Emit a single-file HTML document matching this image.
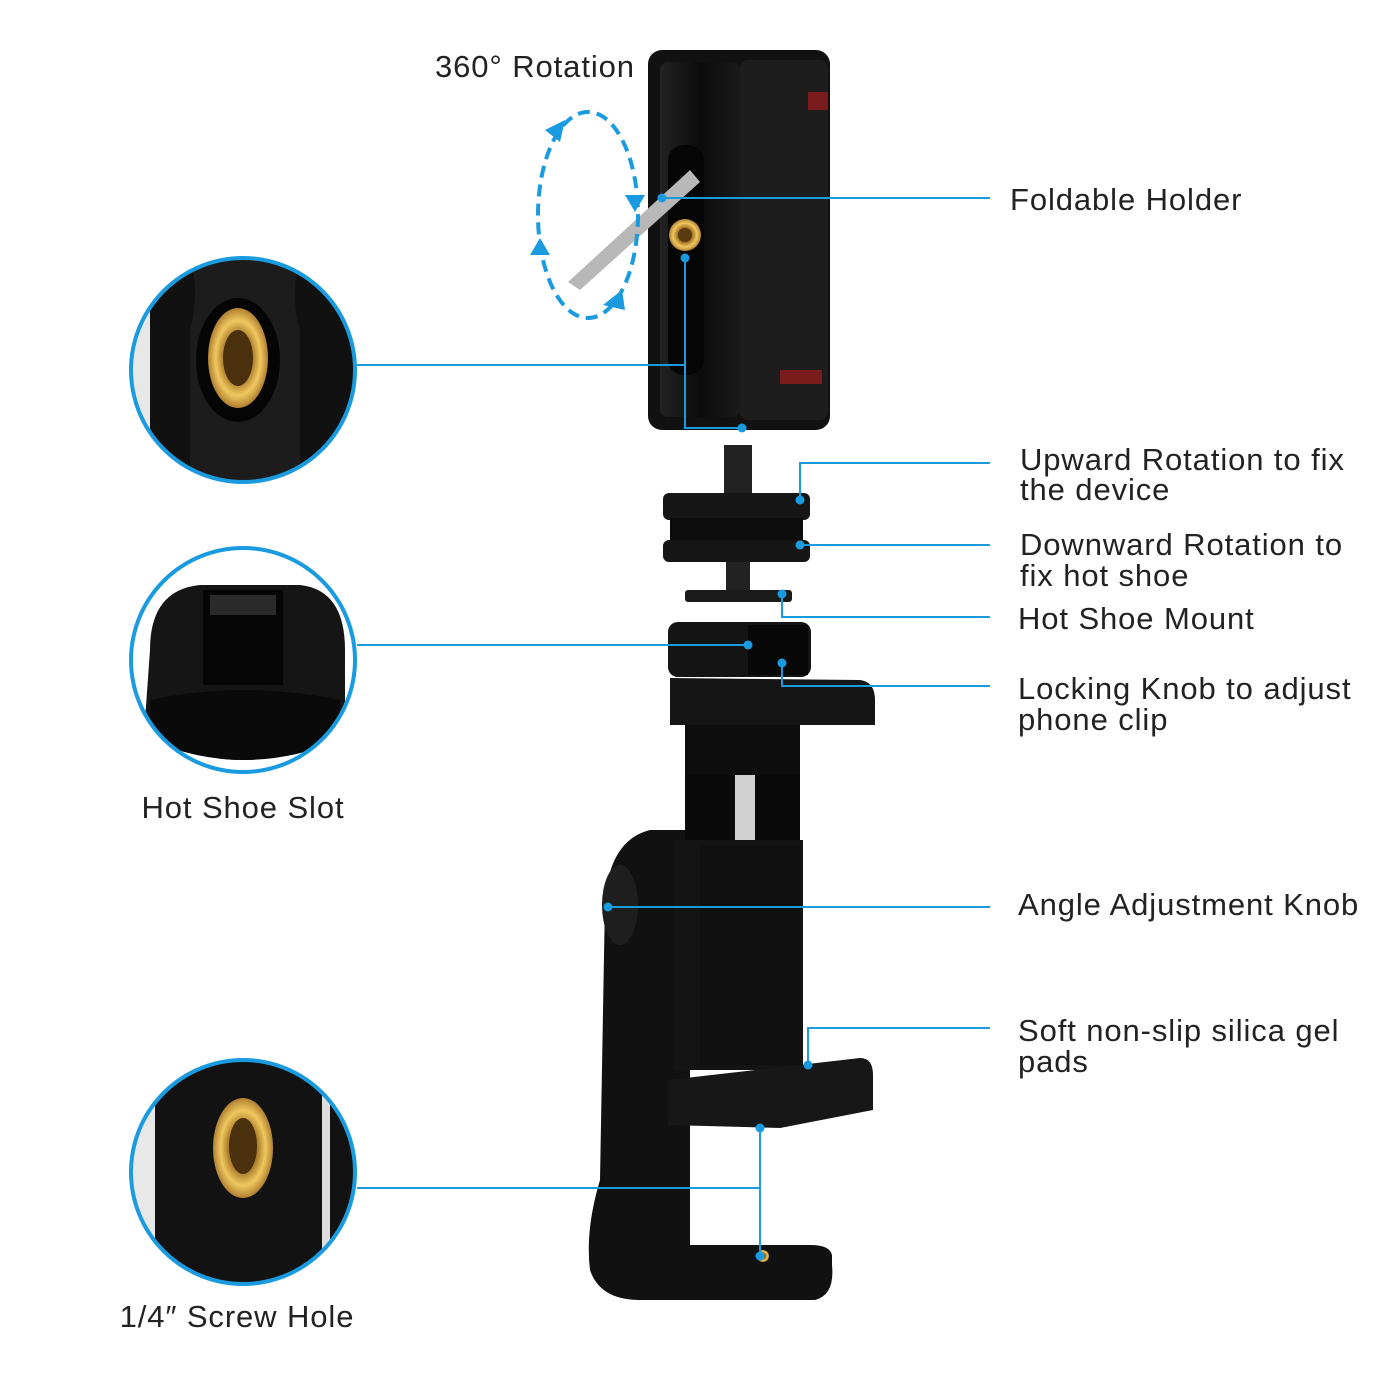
<!DOCTYPE html>
<html><head><meta charset="utf-8"><style>
html,body{margin:0;padding:0;background:#fff;}
svg{display:block}
text{font-family:"Liberation Sans",sans-serif;font-size:31px;letter-spacing:0.9px;fill:#222;}
</style></head><body>
<svg width="1400" height="1400" viewBox="0 0 1400 1400" xmlns="http://www.w3.org/2000/svg">
<defs>
<radialGradient id="brass" cx="50%" cy="50%" r="50%"><stop offset="0" stop-color="#5a3a10"/><stop offset="0.45" stop-color="#a07020"/><stop offset="0.75" stop-color="#f0c860"/><stop offset="1" stop-color="#b08030"/></radialGradient>
<linearGradient id="body" x1="0" x2="1"><stop offset="0" stop-color="#222"/><stop offset="0.5" stop-color="#0c0c0c"/><stop offset="1" stop-color="#1a1a1a"/></linearGradient>
<clipPath id="c1"><circle cx="243" cy="370" r="112"/></clipPath>
<clipPath id="c2"><circle cx="243" cy="660" r="112"/></clipPath>
<clipPath id="c3"><circle cx="243" cy="1172" r="112"/></clipPath>
</defs>

<g clip-path="url(#c1)">
<rect x="120" y="250" width="250" height="250" fill="#111"/>
<rect x="120" y="250" width="30" height="250" fill="#e8e8e8"/>
<path d="M190 250 Q200 300 190 330 L190 500 L300 500 L300 330 Q290 300 300 250Z" fill="#1c1c1c"/>
<ellipse cx="238" cy="360" rx="42" ry="62" fill="#050505"/>
<ellipse cx="238" cy="358" rx="30" ry="50" fill="url(#brass)"/>
<ellipse cx="238" cy="358" rx="15" ry="28" fill="#4a300c"/>
</g>
<circle cx="243" cy="370" r="112" fill="none" stroke="#1a9be0" stroke-width="4"/>

<g clip-path="url(#c2)">
<rect x="120" y="540" width="250" height="250" fill="#fff"/>
<path d="M150 650 Q150 590 200 585 L300 585 Q345 590 345 650 L345 720 Q300 760 243 760 Q180 760 145 720Z" fill="#151515"/>
<rect x="203" y="590" width="80" height="95" fill="#050505"/>
<rect x="210" y="595" width="66" height="20" fill="#2a2a2a"/>
<path d="M150 700 Q243 680 340 700 L340 740 Q243 780 150 740Z" fill="#0a0a0a"/>
</g>
<circle cx="243" cy="660" r="112" fill="none" stroke="#1a9be0" stroke-width="4"/>

<g clip-path="url(#c3)">
<rect x="120" y="1050" width="250" height="250" fill="#121212"/>
<rect x="120" y="1050" width="35" height="250" fill="#e8e8e8"/>
<rect x="322" y="1050" width="8" height="250" fill="#ddd"/>
<ellipse cx="243" cy="1148" rx="30" ry="50" fill="url(#brass)"/>
<ellipse cx="243" cy="1146" rx="14" ry="28" fill="#4a300c"/>
</g>
<circle cx="243" cy="1172" r="112" fill="none" stroke="#1a9be0" stroke-width="4"/>

<rect x="648" y="50" width="182" height="380" rx="14" fill="#111"/>
<rect x="740" y="60" width="88" height="360" rx="8" fill="#1d1d1d"/>
<rect x="660" y="62" width="80" height="355" rx="8" fill="url(#body)"/>
<rect x="808" y="92" width="20" height="18" fill="#7a1c1c"/>
<rect x="780" y="370" width="42" height="14" fill="#7a1c1c"/>
<rect x="668" y="145" width="36" height="230" rx="16" fill="#050505"/>
<path d="M568 282 L690 170 L700 182 L580 290Z" fill="#b8b8b8"/>
<circle cx="685" cy="235" r="16" fill="url(#brass)"/>
<circle cx="685" cy="235" r="7" fill="#5a3a10"/>
<ellipse cx="588" cy="215" rx="50" ry="103" fill="none" stroke="#1a9be0" stroke-width="4" stroke-dasharray="12,7"/>
<polygon points="545,130 565,120 560,142" fill="#1a9be0"/>
<polygon points="625,195 645,195 635,212" fill="#1a9be0"/>
<polygon points="530,255 550,255 540,238" fill="#1a9be0"/>
<polygon points="603,305 622,290 625,310" fill="#1a9be0"/>

<rect x="724" y="445" width="28" height="55" fill="#222"/>
<rect x="663" y="493" width="147" height="27" rx="6" fill="#161616"/>
<rect x="670" y="518" width="133" height="24" fill="#0c0c0c"/>
<rect x="663" y="540" width="147" height="22" rx="6" fill="#161616"/>
<rect x="726" y="562" width="24" height="30" fill="#222"/>
<rect x="685" y="590" width="107" height="12" rx="3" fill="#1a1a1a"/>

<path d="M650 830 Q610 840 605 900 L600 1180 Q585 1230 590 1270 Q600 1300 640 1300 L815 1300 Q835 1295 832 1265 L832 1255 Q830 1245 810 1245 L690 1245 L690 1120 L690 830Z" fill="#111"/>
<ellipse cx="620" cy="905" rx="18" ry="40" fill="#1e1e1e"/>
<rect x="668" y="622" width="143" height="55" rx="10" fill="#141414"/>
<rect x="748" y="625" width="60" height="50" fill="#080808"/>
<path d="M670 678 L860 680 Q875 682 875 700 L875 725 L670 725Z" fill="#151515"/>
<rect x="685" y="725" width="115" height="50" fill="#0d0d0d"/>
<rect x="685" y="775" width="115" height="70" fill="#0a0a0a"/>
<rect x="735" y="775" width="20" height="70" fill="#d0d0d0"/>
<rect x="673" y="840" width="130" height="230" fill="#141414"/>
<rect x="700" y="845" width="100" height="220" fill="#101010"/>
<path d="M668 1080 L860 1058 Q873 1058 873 1075 L873 1110 L780 1128 L668 1125Z" fill="#171717"/>
<circle cx="763" cy="1256" r="6" fill="url(#brass)"/>

<g stroke="#1a9be0" stroke-width="2" fill="none">
<path d="M662 198 H990"/>
<path d="M357 365 H685 M685 258 V428 H742"/>
<path d="M800 500 V463 H990"/>
<path d="M800 545 H990"/>
<path d="M782 594 V617 H990"/>
<path d="M357 645 H748"/>
<path d="M782 663 V686 H990"/>
<path d="M608 907 H990"/>
<path d="M808 1065 V1028 H990"/>
<path d="M357 1188 H760 M760 1128 V1256"/>
</g>
<g fill="#1a9be0">
<circle cx="662" cy="198" r="4.5"/><circle cx="685" cy="258" r="4.5"/><circle cx="742" cy="428" r="4.5"/>
<circle cx="800" cy="500" r="4.5"/><circle cx="800" cy="545" r="4.5"/><circle cx="782" cy="594" r="4.5"/>
<circle cx="748" cy="645" r="4.5"/><circle cx="782" cy="663" r="4.5"/><circle cx="608" cy="907" r="4.5"/>
<circle cx="808" cy="1065" r="4.5"/><circle cx="760" cy="1128" r="4.5"/><circle cx="760" cy="1256" r="4.5"/>
</g>

<text x="435" y="77">360° Rotation</text>
<text x="1010" y="210">Foldable Holder</text>
<text x="1020" y="470">Upward Rotation to fix</text>
<text x="1020" y="500">the device</text>
<text x="1020" y="555">Downward Rotation to</text>
<text x="1020" y="586">fix hot shoe</text>
<text x="1018" y="629">Hot Shoe Mount</text>
<text x="1018" y="699">Locking Knob to adjust</text>
<text x="1018" y="730">phone clip</text>
<text x="1018" y="915">Angle Adjustment Knob</text>
<text x="1018" y="1041">Soft non-slip silica gel</text>
<text x="1018" y="1072">pads</text>
<text x="243" y="818" text-anchor="middle">Hot Shoe Slot</text>
<text x="237" y="1327" text-anchor="middle">1/4″  Screw Hole</text>
</svg>
</body></html>
